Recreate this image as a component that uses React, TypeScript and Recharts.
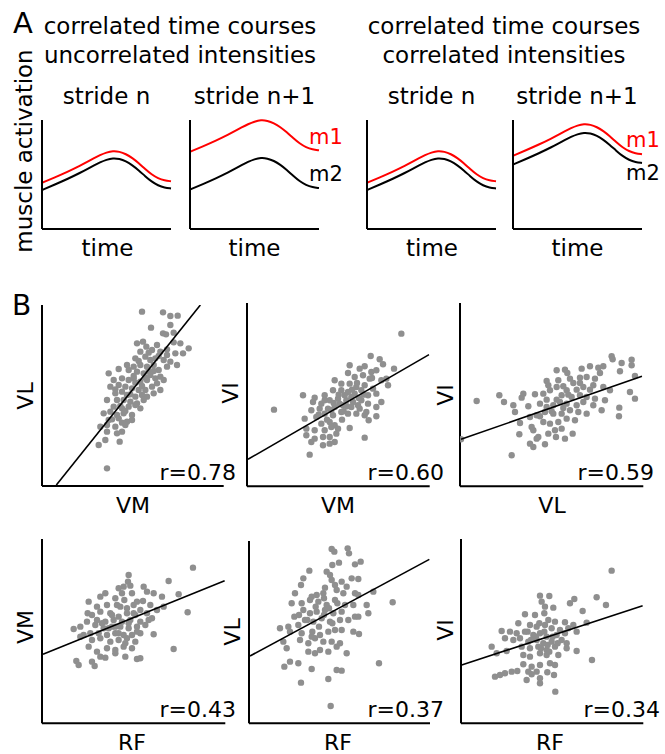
import React from 'react';
import { LineChart, Line, XAxis, YAxis, ScatterChart, Scatter } from 'recharts';

// ---------- Panel A: activation time courses (arbitrary units) ----------
const timePts = [0, 10, 20, 30, 35, 40, 45, 50, 55, 60, 65, 70, 75, 80, 85, 90, 95, 100];

// uncorrelated intensities
const uncorrM1StrideN = [42.4, 47.4, 52.6, 58.4, 61.6, 64.8, 67.8, 70.2, 71.6, 71.0, 68.8, 65.2, 60.4, 55.0, 50.0, 46.5, 44.5, 43.8];
const uncorrM2StrideN = [35.8, 40.8, 46.0, 51.8, 55.0, 58.2, 61.2, 63.6, 65.0, 64.4, 62.2, 58.6, 53.8, 48.4, 43.4, 39.9, 37.9, 37.2];
const uncorrM1StrideN1 = [70.8, 75.8, 81.0, 86.8, 90.0, 93.2, 96.2, 98.6, 100, 99.4, 97.2, 93.6, 88.8, 83.4, 78.4, 74.9, 72.9, 72.2];
const uncorrM2StrideN1 = [36.2, 41.2, 46.4, 52.2, 55.4, 58.6, 61.6, 64.0, 65.4, 64.8, 62.6, 59.0, 54.2, 48.8, 43.8, 40.3, 38.3, 37.6];

// correlated intensities
const corrM1StrideN = [42.4, 47.4, 52.6, 58.4, 61.6, 64.8, 67.8, 70.2, 71.6, 71.0, 68.8, 65.2, 60.4, 55.0, 50.0, 46.5, 44.5, 43.8];
const corrM2StrideN = [35.8, 40.8, 46.0, 51.8, 55.0, 58.2, 61.2, 63.6, 65.0, 64.4, 62.2, 58.6, 53.8, 48.4, 43.4, 39.9, 37.9, 37.2];
const corrM1StrideN1 = [67.2, 72.2, 77.4, 83.2, 86.4, 89.6, 92.6, 95.0, 96.4, 95.8, 93.6, 90.0, 85.2, 79.8, 74.8, 71.3, 69.3, 68.6];
const corrM2StrideN1 = [59.2, 64.2, 69.4, 75.2, 78.4, 81.6, 84.6, 87.0, 88.4, 87.8, 85.6, 82.0, 77.2, 71.8, 66.8, 63.3, 61.3, 60.6];

// ---------- Panel B: stride-by-stride intensities (arbitrary units) ----------
const vmVsVl = [
  [60,104.6],[72.6,104.2],[77,102],[81.4,102.2],[65.4,95],[77,96.6],[72.6,91.6],[74.4,91],[79,92],[57,85.6],
  [60.6,86.6],[62.6,83.6],[69,84.6],[79,86.2],[83,85.6],[88,82.6],[84.6,79.6],[59,80.6],[66,81.6],[71,80.6],
  [75,78.6],[80,79.6],[56,76.6],[62,77.6],[65,75.6],[68,76.6],[73,75.6],[77,74.6],[81,72.6],[51,72.6],
  [55,71.6],[59,72.6],[63,71.6],[67,72.6],[70,69.6],[75,71.6],[40,67.6],[46,70.2],[52,69.6],[57,68.6],
  [61,67.6],[65,66.6],[71,65.6],[68,64.6],[73,63.6],[43,63.6],[48,64.6],[52,63.6],[55,64.6],[59,62.6],
  [63,63.6],[69,61.6],[66,59.6],[41,59.6],[46,60.6],[50,59.6],[54,58.6],[58,57.6],[62,57.6],[71,57.6],
  [44,55.6],[48,56.6],[51,54.6],[56,53.6],[60,54.6],[63,53.6],[67,55.6],[39,51.6],[45,51.6],[49,51.6],
  [53,50.6],[57,49.6],[61,51.6],[43,47.6],[48,46.6],[52,47.6],[56,48.6],[59,46.6],[37,43.6],[41,44.6],
  [45,42.6],[49,43.6],[54,42.6],[40,39.6],[46,40.6],[51,38.6],[54,39.6],[35,35.6],[39,36.6],[44,35.6],
  [50,36.6],[39,32.6],[45,31.6],[48,32.6],[34,24.6],[38,27.6],[46.6,26.6],[39,10.6],
  [55,66],[60,60],[64,69],[53,55],[47,48],[58,75],[70,78],[64,80],[44,58],[50,45],[62,65],[67,69],
  [75,82],[56,62],[42,40],[48,38],
];
const vmVsVlFit = [[8.6, 0.6], [95, 108.6]];

const vmVsVi = [
  [92.6,91.6],[16.2,46],[74.2,78.2],[79.6,76.2],[81.6,73.2],[88.2,70.6],[61.6,72.6],[67.6,70.6],[70.6,72],[74.6,68.6],
  [77.6,69.6],[60.6,68],[64.6,65.6],[69.6,66.6],[73.6,64.6],[80.6,63.6],[84.6,60.6],[83.6,64.6],[52.6,63.6],[56.6,61.6],
  [61.6,61.6],[65.6,59.6],[70.6,60.6],[75.6,58.6],[33.6,54.6],[40.6,53.2],[46.6,54.6],[51.6,57.6],[56.6,57.6],[60.6,56.6],
  [64.6,55.6],[68.6,57.6],[72.6,54.6],[77.6,55.6],[80.6,50.6],[39.6,50.6],[44.6,49.6],[49.6,51.6],[54.6,52.6],[59.6,51.6],
  [63.6,50.6],[68.6,51.6],[72.6,49.6],[34.6,40.6],[38.6,45.6],[43.6,46.6],[48.6,46.6],[52.6,47.6],[57.6,48.6],[62.6,47.6],
  [67.6,46.6],[71.6,44.6],[77.6,47.6],[77.6,42],[41.6,41.6],[46.6,43.6],[51.6,42.6],[56.6,44.6],[60.6,43.6],[65.6,43.6],
  [70.6,42.6],[73,39.6],[44.6,37.6],[49.6,38.6],[52.6,36.6],[61.6,35],[35.6,34.6],[40.6,33.6],[46.6,33.6],[50.6,35.6],
  [54.6,34.6],[35.6,30.6],[40.6,28.6],[45.6,29.6],[49.6,29.6],[53.6,31.6],[38.6,26.6],[45.6,24.6],[49.6,25.6],[52.6,26.6],
  [70.6,29.2],[37.6,19],[46.6,51.6],[58.6,54.6],[62.6,53.6],[55.6,49.6],[66.6,48.6],[50.6,45.6],
  [55,55],[58,45],[63,58],[66,62],[48,40],[52,50],[60,48],[70,55],[43,43],[57,40],[75,65],[67,53],
];
const vmVsViFit = [[0.6, 16.2], [109.2, 79]];

const vlVsVi = [
  [0.6,28.2],[10,51.2],[23.6,54.6],[26.4,50.6],[31,18.6],[91,78],[91.6,76.2],[97,74],[103,76],[103,72.6],
  [96,69],[105,66.2],[102,56.6],[105,52.6],[95.6,47.2],[95.4,42],[58,69.6],[63,70],[64.4,68],[73,70.6],
  [78,72],[83,71.2],[86,72],[52,63.2],[59,63.6],[66,64.6],[72,65.2],[76,65.6],[81,64.6],[84,68],
  [53,60.6],[58,59.6],[64,57.6],[70,58],[74,59.6],[80,60.6],[86,59.6],[90,57.6],[37,53.2],[38,55.6],
  [45,55.2],[50,55.6],[54,57.6],[61,54.6],[67,53.6],[72,54.6],[76,53.6],[81,52.6],[87,51.6],[32,48.6],
  [41,48],[48,49.6],[52,47.6],[56,48.6],[60,50.6],[64,49.6],[70,48.6],[74,50.6],[80,48.6],[85,45.6],
  [33,44.6],[42,41.6],[46,42.6],[51,44.6],[56,43.6],[61,43.6],[66,45.6],[71,44.6],[76,43.6],[36,38],
  [43,35.6],[50,38.6],[54,37.6],[59,38.6],[64,40.6],[69,39.6],[35.6,31.2],[44,33.6],[47,29.6],[53,31.6],
  [57,33.6],[61,34.6],[67.6,31.6],[42,25.6],[46,28.6],[51,25.2],[57.6,29.6],[63,28.6],[44,23.6],
  [62,60],[68,62],[58,52],[55,45],[65,55],[72,62],[48,42],[78,58],[62,47],[52,52],
];
const vlVsViFit = [[0.6, 28.2], [109.2, 66]];

const rfVsVm = [
  [90.6,93.4],[76,85.4],[52,89],[51.6,85],[49,82],[53,82.6],[46,81],[48,78],[54,78],[61,82],
  [63,79],[67,78],[72,76],[82,77.4],[38,78],[35,76],[44,75],[49.4,74],[57,73],[60.6,73.4],
  [65,71],[73,70],[28,73],[33,70],[39,71],[45,71],[51,69],[55,71],[59,68],[69,68],
  [27.4,66],[30,65],[35,67],[41,66],[46,64],[51,66],[56,65],[63,66],[66,63],[87.4,66.6],
  [19,56.6],[27,61],[33,62],[38,61],[43,62],[48,61],[53,62],[59,61],[64,62],[23,58],
  [32,59],[37,57],[42,58],[47,58],[52,57],[57,58],[62,59],[67,53.4],[25,53],[29,54],
  [34,54],[39,53],[44,54],[49,53],[54,53],[59,54],[23,52],[30,50],[35,51],[41,49],
  [46,50],[51,51],[56,49],[28,46],[33,43],[39,45],[44,44],[49,46],[54,45],[79,44.6],
  [35,40],[38,39.4],[44,42],[50,40],[57,38.6],[59,39],[20.6,37.4],[22,35],[30,37],[31.6,34.4],
  [42,65],[47,70],[52,60],[57,55],[44,58],[40,57],[50,48],[55,66],[36,60],[46,54],
];
const rfVsVmFit = [[0.6, 41.4], [109.6, 85.6]];

const rfVsVl = [
  [49.6,104.6],[51.2,103],[59.2,105],[60,102],[50,95],[54,96.4],[63.6,95.4],[67,97],[36.2,91.6],[46.6,91],
  [48.6,89],[32.6,87],[31.2,83],[45.6,81.4],[49.6,86],[51.6,83],[55.6,85],[61.6,87],[65.6,86.6],[58.6,82],
  [27.6,78],[37.6,76],[40.6,77],[44.6,78],[52.6,80],[56.6,78],[63.6,78],[65.6,77],[74.6,79],[25.6,72],
  [31.6,72],[36.6,74],[41.6,73],[46.6,71],[51.6,74],[57.6,71],[62.6,71],[70.6,71],[86.2,72.6],[27.2,64],
  [32.6,68],[36.6,66],[40.6,67],[45.6,68],[50.6,66],[55.6,67],[63.6,64],[71.6,66],[18.6,57],[23.6,58],
  [29.6,59],[33.6,62],[38.6,61],[43.6,63],[48.6,61],[54.6,62],[59.6,62],[65.6,64],[24.6,55],[31.6,54],
  [37.6,52],[42.6,53],[47.6,55],[51.6,56],[55.6,56],[62.6,55],[66,53.6],[20.6,49],[22.6,45],[30.6,50],
  [35.6,48],[39.6,51],[44.6,49],[49.6,49],[54.6,48],[35.6,43],[39.6,42],[42.6,44],[47.6,43],[52.6,46],
  [58.6,42],[24.6,37],[29.6,36],[21.2,34],[37.6,32.6],[52.6,32],[55.6,31.6],[78,36],[31.2,24.4],[47.6,26.6],
  [49,10.4],
  [40,70],[45,65],[50,60],[35,62],[42,58],[48,69],[53,72],[38,55],[45,75],[30,65],
];
const rfVsVlFit = [[0.6, 40.4], [108.2, 98.4]];

const rfVsVi = [
  [90.4,91.6],[47.4,76.6],[53,76.4],[65.4,72],[68,74.6],[81.4,75.6],[87,71],[48.4,73],[50.4,70],[55.4,69.4],
  [73,67.4],[38.4,65.4],[44.4,65],[50,66],[52.4,62],[56.4,61],[62.4,60.6],[67.4,59],[75.4,60.4],[34.4,60],
  [41.4,59],[45.4,58],[50.4,59],[54.4,57],[59.4,56],[64.4,57],[69.4,55],[24.4,55.4],[29.4,55],[33.4,54],
  [38.4,55],[43.4,53],[47.4,54],[51.4,52],[57.4,53],[62.4,54],[26.4,51],[31.4,50],[35.4,51],[40.4,49],
  [45.4,50],[49.4,48],[54.4,49],[60.4,50],[63.4,48],[18.4,46],[21.4,42],[27.4,43.4],[36.4,46],[41.4,45],
  [46.4,46],[51.4,44],[56.4,46],[63.4,45],[69.4,43.4],[37.4,41],[41.4,40],[47.4,42],[51.4,41],[58.4,41],
  [78.6,38],[37.4,35.4],[42.4,34],[47.4,35],[53.4,36],[56.4,35],[20.4,28],[23.4,29],[26.4,30],[30.4,31],
  [33.8,31.4],[40.4,31],[42.4,29.4],[45.4,31],[47.4,27],[51.8,30.6],[55.8,29],[39.4,26],[47.4,24],[56.6,19],
  [45,52],[50,55],[55,52],[48,45],[42,50],[52,47],[58,48],[47,60],[40,55],[53,43],
];
const rfVsViFit = [[0.4, 35], [109, 70.6]];

const toXY = (arr: number[][]) => arr.map(([x, y]) => ({ x, y }));
const curve = (m1: number[], m2: number[]) => timePts.map((t, i) => ({ t, m1: m1[i], m2: m2[i] }));

const FONT = '"DejaVu Sans", sans-serif';
const PAD = 6;
const AXIS = { stroke: '#000', strokeWidth: 2 };

type Box = { left: number; top: number; right: number; bottom: number };

function CurvePanel({ box, data }: { box: Box; data: any[] }) {
  const w = box.right - box.left;
  const h = box.bottom - box.top;
  return (
    <div style={{ position: 'absolute', left: box.left - PAD, top: box.top - PAD }}>
      <LineChart width={w + 2 * PAD} height={h + 2 * PAD} data={data}
        margin={{ top: PAD, right: PAD, bottom: PAD - 1, left: PAD - 1 }}>
        <XAxis dataKey="t" type="number" domain={[0, 100]} height={1} tick={false} tickLine={false} axisLine={AXIS} />
        <YAxis type="number" domain={[0, 100]} width={1} tick={false} tickLine={false} axisLine={AXIS} />
        <Line dataKey="m2" type="basis" stroke="#000" strokeWidth={2} dot={false} isAnimationActive={false} />
        <Line dataKey="m1" type="basis" stroke="#ff0000" strokeWidth={2} dot={false} isAnimationActive={false} />
      </LineChart>
    </div>
  );
}

const GrayDot = (p: any) => <circle cx={p.cx} cy={p.cy} r={3.2} fill="#8f8f8f" />;
const NoDot = () => <g />;

function ScatterPanel({ box, xMax, yMax, points, fit }: { box: Box; xMax: number; yMax: number; points: number[][]; fit: number[][] }) {
  const w = box.right - box.left;
  const h = box.bottom - box.top;
  return (
    <div style={{ position: 'absolute', left: box.left - PAD, top: box.top - PAD }}>
      <ScatterChart width={w + 2 * PAD} height={h + 2 * PAD}
        margin={{ top: PAD, right: PAD, bottom: PAD - 1, left: PAD - 1 }}>
        <XAxis dataKey="x" type="number" domain={[0, xMax]} allowDataOverflow height={1} tick={false} tickLine={false} axisLine={AXIS} />
        <YAxis dataKey="y" type="number" domain={[0, yMax]} allowDataOverflow width={1} tick={false} tickLine={false} axisLine={AXIS} />
        <Scatter data={toXY(points)} shape={GrayDot} isAnimationActive={false} />
        <Scatter data={toXY(fit)} shape={NoDot} line={{ stroke: '#000', strokeWidth: 1.6 }} isAnimationActive={false} />
      </ScatterChart>
    </div>
  );
}

function T({ x, y, s = 23, anchor = 'middle', color = '#000', rot = false, children }: any) {
  return (
    <text x={x} y={y} fontSize={s} fill={color} textAnchor={anchor} fontFamily={FONT}
      transform={rot ? `rotate(-90 ${x} ${y})` : undefined}>{children}</text>
  );
}

export default function App() {
  return (
    <div style={{ position: 'absolute', left: 0, top: 0, width: 665, height: 754, background: '#fff', overflow: 'hidden' }}>
      <CurvePanel box={{ left: 42, top: 120, right: 171, bottom: 229 }} data={curve(uncorrM1StrideN, uncorrM2StrideN)} />
      <CurvePanel box={{ left: 190, top: 120, right: 319, bottom: 229 }} data={curve(uncorrM1StrideN1, uncorrM2StrideN1)} />
      <CurvePanel box={{ left: 367, top: 120, right: 496, bottom: 229 }} data={curve(corrM1StrideN, corrM2StrideN)} />
      <CurvePanel box={{ left: 513, top: 120, right: 642, bottom: 229 }} data={curve(corrM1StrideN1, corrM2StrideN1)} />

      <ScatterPanel box={{ left: 42, top: 305, right: 223.7, bottom: 486 }} xMax={109} yMax={108.6} points={vmVsVl} fit={vmVsVlFit} />
      <ScatterPanel box={{ left: 247.3, top: 302.7, right: 430, bottom: 486 }} xMax={109.6} yMax={110} points={vmVsVi} fit={vmVsViFit} />
      <ScatterPanel box={{ left: 460, top: 302.7, right: 643.3, bottom: 486 }} xMax={110} yMax={110} points={vlVsVi} fit={vlVsViFit} />
      <ScatterPanel box={{ left: 41.7, top: 539, right: 225, bottom: 723.3 }} xMax={110} yMax={110.6} points={rfVsVm} fit={rfVsVmFit} />
      <ScatterPanel box={{ left: 249, top: 541, right: 430, bottom: 723.3 }} xMax={108.6} yMax={109.4} points={rfVsVl} fit={rfVsVlFit} />
      <ScatterPanel box={{ left: 461, top: 539, right: 643.3, bottom: 723.3 }} xMax={109.4} yMax={110.6} points={rfVsVi} fit={rfVsViFit} />

      <svg width={665} height={754} style={{ position: 'absolute', left: 0, top: 0, pointerEvents: 'none' }}>
        <T x={13} y={33} s={29} anchor="start">A</T>
        <T x={180} y={34}>correlated time courses</T>
        <T x={180} y={63}>uncorrelated intensities</T>
        <T x={504} y={34}>correlated time courses</T>
        <T x={504} y={63}>correlated intensities</T>
        <T x={32} y={151} rot>muscle activation</T>
        <T x={106.5} y={104}>stride n</T>
        <T x={254.5} y={104}>stride n+1</T>
        <T x={431.5} y={104}>stride n</T>
        <T x={577} y={104}>stride n+1</T>
        <T x={107.5} y={256}>time</T>
        <T x={254.5} y={256}>time</T>
        <T x={432} y={256}>time</T>
        <T x={577.5} y={256}>time</T>
        <T x={309} y={144} s={21} anchor="start" color="#ff0000">m1</T>
        <T x={309} y={181} s={21} anchor="start">m2</T>
        <T x={626} y={147} s={21} anchor="start" color="#ff0000">m1</T>
        <T x={626} y={180} s={21} anchor="start">m2</T>

        <T x={12} y={315} s={28} anchor="start">B</T>
        <T x={33} y={396} s={22} rot>VL</T>
        <T x={133} y={513} s={22}>VM</T>
        <T x={236} y={480} s={22} anchor="end">r=0.78</T>
        <T x={238} y={393} s={22} rot>VI</T>
        <T x={338} y={513} s={22}>VM</T>
        <T x={444} y={480} s={22} anchor="end">r=0.60</T>
        <T x={453} y={395} s={22} rot>VI</T>
        <T x={552} y={513} s={22}>VL</T>
        <T x={654} y={480} s={22} anchor="end">r=0.59</T>

        <T x={33} y={627} s={22} rot>VM</T>
        <T x={132} y={750} s={22}>RF</T>
        <T x={236} y={717} s={22} anchor="end">r=0.43</T>
        <T x={240} y={632} s={22} rot>VL</T>
        <T x={338} y={750} s={22}>RF</T>
        <T x={444} y={717} s={22} anchor="end">r=0.37</T>
        <T x={453} y={630} s={22} rot>VI</T>
        <T x={550} y={750} s={22}>RF</T>
        <T x={660} y={717} s={22} anchor="end">r=0.34</T>
      </svg>
    </div>
  );
}
